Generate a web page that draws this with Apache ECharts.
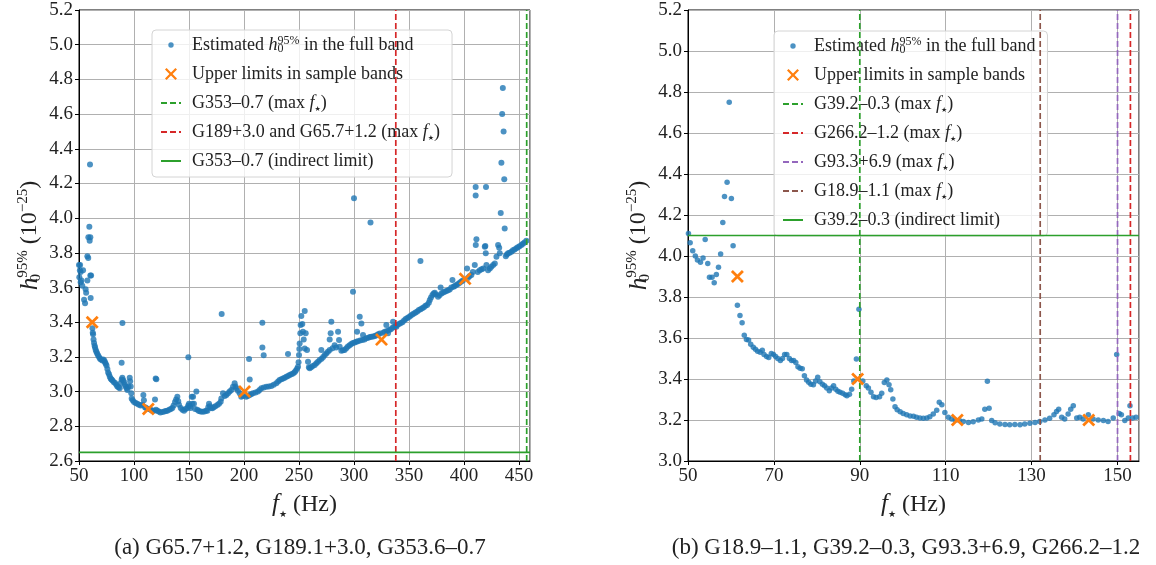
<!DOCTYPE html>
<html><head><meta charset="utf-8">
<script src="https://cdn.jsdelivr.net/npm/echarts@6/dist/echarts.min.js"></script>
<style>html,body{margin:0;padding:0;background:#fff}#c{width:1156px;height:565px}</style>
</head><body><div id="c"></div>
<script>
// ---------------- DATA ----------------
const leftEst = [
[50.0,3.73],[50.3,3.66],[50.8,3.70],[51.0,3.73],[51.5,3.69],[51.5,3.63],[52.2,3.64],[53.0,3.61],[53.7,3.70],[54.6,3.53],[55.5,3.51],[56.0,3.59],[56.5,3.57],[57.6,3.64],[57.6,3.78],[58.4,3.77],[58.5,3.89],[59.4,3.95],[59.7,3.87],[60.0,4.31],[60.3,3.89],[60.3,3.67],[60.6,3.54],[61.0,3.67],
[62.2,3.365],[62.5,3.34],[62.8,3.33],[63.2,3.30],[63.7,3.28],[64.2,3.265],[64.6,3.255],[65.2,3.24],[65.8,3.23],[66.5,3.22],[67.3,3.21],[68.2,3.20],[69.1,3.19],[70.0,3.185],[71.2,3.18],[72.0,3.185],[73.0,3.18],[73.6,3.17],[74.3,3.16],[75.0,3.15],[75.8,3.13],[76.5,3.11],[77.3,3.10],[78.0,3.085],[78.8,3.075],[79.5,3.07],[80.3,3.065],[81.5,3.055],[82.8,3.05],[84.0,3.04],[84.9,3.03],[86.0,3.025],[87.0,3.02],[88.0,3.05],[88.8,3.07],[89.4,3.08],[90.2,3.065],[90.9,3.055],[91.7,3.04],[92.5,3.03],[93.3,3.02],[94.0,3.01],[95.0,3.03],[96.1,3.08],[96.5,3.06],[97.0,3.03],[97.5,2.99],[97.9,2.96],[98.8,2.95],[100.0,2.94],[101.5,2.935],[103.0,2.93],[104.5,2.925],[106.1,2.92],[107.5,2.925],[108.5,2.98],[109.0,2.95],[110.0,2.91],[111.0,2.905],[113.5,2.9],[115.2,2.895],[116.5,2.89],[118.0,2.89],[119.1,2.955],[120.0,2.895],[121.2,2.89],[122.5,2.885],[124.0,2.88],[125.8,2.883],[127.5,2.885],[129.0,2.888],[130.3,2.89],[132.0,2.895],[133.5,2.9],[134.9,2.905],[136.0,2.92],[137.3,2.94],[138.3,2.955],[139.4,2.97],[140.2,2.945],[140.9,2.925],[142.5,2.905],[144.0,2.895],[145.5,2.89],[147.0,2.9],[148.5,2.905],[149.3,2.92],[150.0,2.93],[150.8,2.915],[151.5,2.905],[152.5,2.97],[153.0,2.93],[153.7,2.97],[154.5,2.93],[155.5,2.9],[156.7,3.0],[157.6,2.895],[159.0,2.888],[160.5,2.885],[162.2,2.884],[164.0,2.886],[165.5,2.89],[166.7,2.89],[167.5,2.91],[168.2,2.93],[169.0,2.915],[170.0,2.905],[171.2,2.904],[172.5,2.91],[174.0,2.915],[175.8,2.923],[177.3,2.93],[178.8,2.942],[179.4,2.961],[180.9,2.99],[182.5,2.975],[184.0,2.98],[185.5,2.99],[187.0,3.0],[188.5,3.01],[190.0,3.028],[191.5,3.048],[192.3,3.03],[193.0,3.019],[194.5,3.005],[196.1,2.99],[197.5,2.97],[199.0,2.975],[202.0,2.97],[203.5,2.975],[205.0,2.98],[206.5,2.985],[208.2,2.99],[210.5,2.995],[212.7,3.0],[214.2,3.01],[215.8,3.019],[218.0,3.024],[220.3,3.028],[222.5,3.03],[224.9,3.032],[227.0,3.04],[229.4,3.048],[231.0,3.058],[232.4,3.067],[234.0,3.072],[235.5,3.076],[237.0,3.08],[238.5,3.086],[240.0,3.09],[241.5,3.096],[243.0,3.10],[244.6,3.105],[246.0,3.112],[247.0,3.121],[248.2,3.132],[249.1,3.144],[249.6,3.17],[250.0,3.211],[250.3,3.245],[250.6,3.278],[251.2,3.336],[251.5,3.384],[252.1,3.436],[253.0,3.39],[253.6,3.345],[254.3,3.30],[255.2,3.465],[255.2,3.249],[256.1,3.336],[257.3,3.24],[258.2,3.172],[259.0,3.14],[259.7,3.134],[261.0,3.14],[262.5,3.148],[264.3,3.153],[265.8,3.163],[267.3,3.172],[268.8,3.182],[270.3,3.24],[270.5,3.19],[272.0,3.2],[273.4,3.211],[274.8,3.22],[276.3,3.23],[277.9,3.24],[277.9,3.301],[278.8,3.336],[279.4,3.403],[280.5,3.25],[282.4,3.268],[283.8,3.255],[285.5,3.345],[286.4,3.297],[287.0,3.259],[288.5,3.235],[290.0,3.238],[291.5,3.24],[293.0,3.25],[294.5,3.26],[296.1,3.268],[297.5,3.275],[299.0,3.28],[300.6,3.283],[302.1,3.288],[302.8,3.345],[303.5,3.29],[305.2,3.432],[305.5,3.295],[306.7,3.393],[307.5,3.298],[308.2,3.326],[309.5,3.3],[311.2,3.307],[313.0,3.31],[314.5,3.315],[315.8,3.317],[317.5,3.318],[319.0,3.321],[320.5,3.325],[322.0,3.33],[323.5,3.335],[326.5,3.34],[328.0,3.345],[329.4,3.384],[330.0,3.35],[330.9,3.336],[332.0,3.355],[333.5,3.36],[335.0,3.368],[335.5,3.403],[336.5,3.372],[338.0,3.379],[338.5,3.374],[339.5,3.385],[341.0,3.39],[342.5,3.395],[344.0,3.40],[345.5,3.41],[347.0,3.418],[348.5,3.425],[350.0,3.43],[351.5,3.438],[353.0,3.445],[354.5,3.45],[356.0,3.456],[357.5,3.462],[359.0,3.47],[360.4,3.753],[360.5,3.475],[362.0,3.48],[363.5,3.487],[365.0,3.495],[366.5,3.50],[368.0,3.512],[368.9,3.528],[370.0,3.543],[371.3,3.557],[372.4,3.565],[373.4,3.57],[374.5,3.56],[376.4,3.547],[377.8,3.555],[378.75,3.60],[379.5,3.566],[381.0,3.571],[382.5,3.576],[384.0,3.58],[385.5,3.585],[387.0,3.589],[388.5,3.60],[389.5,3.643],[390.5,3.605],[391.6,3.609],[393.0,3.615],[394.5,3.62],[396.1,3.628],[397.5,3.635],[399.0,3.64],[402.8,3.71],[403.5,3.655],[405.0,3.665],[406.7,3.672],[408.0,3.69],[409.8,3.73],[410.6,4.18],[410.6,4.13],[410.7,3.845],[411.3,3.878],[412.5,3.69],[414.3,3.70],[416.0,3.706],[417.5,3.71],[418.9,3.835],[419.4,3.84],[419.8,3.797],[420.0,4.18],[420.4,3.73],[421.9,3.70],[423.5,3.71],[424.9,3.72],[426.5,3.73],[428.0,3.739],[429.5,3.778],[431.0,3.845],[432.0,3.83],[432.5,3.797],[433.4,4.03],[434.0,4.32],[434.7,4.6],[435.3,4.75],[436.0,4.5],[436.6,4.225],[437.0,3.941],[438.0,3.78],[439.0,3.79],[440.1,3.797],[441.5,3.80],[443.1,3.807],[444.5,3.815],[446.0,3.82],[447.6,3.826],[449.0,3.832],[450.5,3.838],[452.2,3.845],[453.5,3.852],[455.0,3.86],[456.7,3.87],
[88.75,3.167],[89.5,3.395],[119.7,3.076],[120.3,3.071],[149.4,3.198],[179.7,3.447],[204.6,3.188],[205.2,3.07],[216.7,3.397],[216.7,3.255],[217.9,3.21],[240.0,3.217],[299.1,3.576],[300.0,4.115],[315.0,3.975]
];
const leftUL = [[62,3.4],[113,2.9],[200.5,3.0],[325,3.3],[401,3.65]];
const leftMaxF = [457, 338];
const leftMaxFNames = ['G353–0.7', 'G189+3.0 and G65.7+1.2'];
const leftIndirect = 2.65;
const leftIndirectName = 'G353–0.7';

const rightEst = [
[50.1,4.11],[50.5,4.065],[51.1,4.026],[51.7,4.0],[52.2,3.98],[52.9,3.97],[53.5,3.99],[54.0,4.08],[54.6,3.964],[55.0,3.896],[55.6,3.896],[56.1,3.87],[56.6,3.91],[57.1,3.945],[57.6,4.01],[58.1,4.164],[58.5,4.29],[59.1,4.36],[59.6,4.75],[60.1,4.28],[60.5,4.05],
[61.5,3.76],[62.1,3.71],[62.6,3.675],[63.1,3.614],[63.6,3.593],[64.1,3.59],[64.6,3.57],[65.2,3.555],[65.7,3.545],[66.2,3.535],[66.8,3.53],[67.3,3.54],[67.7,3.52],[68.3,3.51],[68.8,3.505],[69.4,3.525],[69.9,3.52],[70.4,3.51],[70.9,3.5],[71.5,3.49],[72.0,3.5],[72.5,3.52],[73.0,3.52],[73.6,3.5],[74.1,3.49],[74.6,3.49],[75.1,3.48],[75.6,3.46],[76.1,3.453],[76.6,3.45],[77.1,3.416],[77.6,3.395],[78.1,3.384],[78.6,3.375],[79.2,3.372],[79.7,3.39],[80.2,3.408],[80.7,3.387],[81.3,3.375],[81.8,3.367],[82.3,3.356],[82.9,3.343],[83.4,3.356],[83.9,3.367],[84.4,3.35],[84.9,3.34],[85.4,3.335],[86.0,3.33],[86.6,3.323],[87.0,3.318],[87.6,3.326],[88.1,3.35],[88.6,3.39],[89.2,3.497],[89.8,3.74],
[90.7,3.39],[91.5,3.367],[92.0,3.356],[92.6,3.335],[93.2,3.313],[93.8,3.31],[94.6,3.313],[95.1,3.33],[95.7,3.383],[96.3,3.395],[96.8,3.372],[97.2,3.348],[97.7,3.302],[98.2,3.265],[98.7,3.25],[99.4,3.24],[100.1,3.232],[100.9,3.226],[101.7,3.22],[102.5,3.218],[103.2,3.214],[104.0,3.21],[104.8,3.208],[105.6,3.21],[106.3,3.216],[107.1,3.229],[107.9,3.248],[108.5,3.286],[109.1,3.275],[109.8,3.237],[110.6,3.213],[111.4,3.205],[112.2,3.2],[113.2,3.197],[114.1,3.193],[115.3,3.188],[116.4,3.192],[117.6,3.2],[118.4,3.205],[119.1,3.253],[119.7,3.389],[120.1,3.257],[120.7,3.197],[121.5,3.187],[122.6,3.18],[123.8,3.178],[124.9,3.177],[126.1,3.178],[127.3,3.177],[128.4,3.18],[129.6,3.184],[130.8,3.188],[131.9,3.193],[133.1,3.2],[134.2,3.208],[135.2,3.226],[135.8,3.242],[136.3,3.253],[137.0,3.213],[137.7,3.205],[138.5,3.229],[139.1,3.253],[139.7,3.27],[140.5,3.21],[141.2,3.213],[142.0,3.205],[143.2,3.226],[144.3,3.205],[145.5,3.2],[146.7,3.197],[147.8,3.193],[149.0,3.21],[149.8,3.52],[150.4,3.232],[150.9,3.226],[151.7,3.197],[152.5,3.21],[152.9,3.27],[153.5,3.21],[154.3,3.213]
];
const rightUL = [[61.5,3.9],[89.5,3.4],[112.7,3.2],[143.3,3.2]];
const rightMaxF = [90, 153, 150, 132];
const rightMaxFNames = ['G39.2–0.3', 'G266.2–1.2', 'G93.3+6.9', 'G18.9–1.1'];
const rightIndirect = 4.10;
const rightIndirectName = 'G39.2–0.3';

const leftX = [50, 460], leftY = [2.6, 5.2];
const rightX = [50, 155], rightY = [3.0, 5.2];
const captions = ['(a) G65.7+1.2, G189.1+3.0, G353.6–0.7', '(b) G18.9–1.1, G39.2–0.3, G93.3+6.9, G266.2–1.2'];

// ---------------- STYLE ----------------
const F = 'Liberation Serif';
const C = {blue:'#1f77b4', orange:'#ff7f0e', green:'#2ca02c', red:'#d62728', purple:'#9467bd', brown:'#8c564b'};
const leftMaxFColors = [C.green, C.red];
const rightMaxFColors = [C.green, C.red, C.purple, C.brown];
const XPATH = 'path://M0,1.5L1.5,0L5,3.5L8.5,0L10,1.5L6.5,5L10,8.5L8.5,10L5,6.5L1.5,10L0,8.5L3.5,5Z';
const X_ICON = 'path://M0,0L0.001,0Z M20,14L20.001,14Z M4,2.6L5.6,1L10,5.4L14.4,1L16,2.6L11.6,7L16,11.4L14.4,13L10,8.6L5.6,13L4,11.4L8.4,7Z';
const DOT_ICON = 'path://M0,0L0.001,0Z M20,14L20.001,14Z M7.3,7A2.7,2.7 0 1 1 12.7,7A2.7,2.7 0 1 1 7.3,7Z';
const FSTAR = '{i|f}{star|★}';
const H95 = '{i|h}{sub|0}{sup|95%}';
const NONE = 'rgba(0,0,0,0)';

const labels = {};
const series = [];
const legendL = [], legendR = [];

function addPanel(idx, est, ul, maxF, maxFNames, maxFColors, indirect, indirectName, xr, yr, legendArr, pre, dot) {
  labels[pre+'est'] = 'Estimated ' + H95 + ' in the full band';
  labels[pre+'ul'] = 'Upper limits in sample bands';
  series.push({type:'scatter', name:pre+'est', xAxisIndex:idx, yAxisIndex:idx, data:est, symbol:'circle', symbolSize:dot,
    itemStyle:{color:C.blue, opacity:0.8}, z:2, silent:true});
  series.push({type:'scatter', name:pre+'ul', xAxisIndex:idx, yAxisIndex:idx, data:ul, symbol:XPATH, symbolSize:13,
    itemStyle:{color:C.orange, opacity:1}, z:5, silent:true});
  legendArr.push({name:pre+'est', icon:DOT_ICON}, {name:pre+'ul', icon:X_ICON});
  maxF.forEach((x, k) => {
    const key = pre + 'v' + k;
    labels[key] = maxFNames[k] + ' (max ' + FSTAR + ')';
    series.push({type:'line', name:key, xAxisIndex:idx, yAxisIndex:idx, data:[[x, yr[0]],[x, yr[1]]], symbol:'none',
      lineStyle:{color:maxFColors[k], width:1.7, type:[6,3]}, itemStyle:{color:NONE, borderWidth:0}, z:4, silent:true});
    legendArr.push({name:key, itemStyle:{color:NONE, borderWidth:0, opacity:0}});
  });
  const hk = pre + 'h';
  labels[hk] = indirectName + ' (indirect limit)';
  series.push({type:'line', name:hk, xAxisIndex:idx, yAxisIndex:idx, data:[[xr[0], indirect],[xr[1], indirect]], symbol:'none',
    lineStyle:{color:C.green, width:1.7, type:'solid'}, itemStyle:{color:NONE, borderWidth:0}, z:4, silent:true});
  legendArr.push({name:hk, itemStyle:{color:NONE, borderWidth:0, opacity:0}});
}
addPanel(0, leftEst, leftUL, leftMaxF, leftMaxFNames, leftMaxFColors, leftIndirect, leftIndirectName, leftX, leftY, legendL, 'L_', 6);
addPanel(1, rightEst, rightUL, rightMaxF, rightMaxFNames, rightMaxFColors, rightIndirect, rightIndirectName, rightX, rightY, legendR, 'R_', 5.5);

const richLegend = {
  i:{fontStyle:'italic', fontFamily:F, fontSize:18, color:'#222'},
  sub:{fontFamily:F, fontSize:12, verticalAlign:'bottom', width:0, color:'#222', lineHeight:12},
  sup:{fontFamily:F, fontSize:12, verticalAlign:'top', color:'#222', lineHeight:12},
  star:{fontFamily:'DejaVu Sans', fontSize:7, verticalAlign:'bottom', color:'#222', lineHeight:9}
};
function mkLegend(left, top, data) {
  return {orient:'vertical', left:left, top:top, data:data, itemWidth:20, itemHeight:14, itemGap:9,
    padding:[5,12,6,8], backgroundColor:'rgba(255,255,255,0.8)', borderColor:'#d4d4d4', borderWidth:1, borderRadius:4,
    selectedMode:false, formatter:n => labels[n],
    textStyle:{fontFamily:F, fontSize:18, color:'#222', lineHeight:20, padding:[0,0,0,6], rich:richLegend}};
}

const axisText = {fontFamily:F, fontSize:19, color:'#222'};
const nameRich = {
  i:{fontStyle:'italic', fontFamily:F, fontSize:25, color:'#222'},
  sub:{fontFamily:F, fontSize:15, verticalAlign:'bottom', width:0, color:'#222', lineHeight:14},
  sup:{fontFamily:F, fontSize:15, verticalAlign:'top', color:'#222', lineHeight:14},
  star:{fontFamily:'DejaVu Sans', fontSize:9, verticalAlign:'bottom', color:'#222', lineHeight:11}
};
function xAx(idx, r, interval) {
  return {type:'value', gridIndex:idx, min:r[0], max:r[1], interval:interval,
    name: FSTAR + ' (Hz)', nameLocation:'middle', nameGap:23,
    nameTextStyle:{fontFamily:F, fontSize:24, color:'#222', lineHeight:28, rich:nameRich},
    axisLine:{show:true, onZero:false, lineStyle:{color:'#000', width:1}},
    axisTick:{show:true, length:4, lineStyle:{color:'#000'}},
    axisLabel:Object.assign({margin:6, showMaxLabel:false}, axisText),
    splitLine:{show:true, lineStyle:{color:'#b0b0b0', width:1}}};
}
function yAx(idx, r) {
  return {type:'value', gridIndex:idx, min:r[0], max:r[1], interval:0.2,
    name: H95 + ' (10{sup|−25})', nameLocation:'middle', nameGap:35,
    nameTextStyle:{fontFamily:F, fontSize:24, color:'#222', lineHeight:28, rich:nameRich},
    axisLine:{show:true, onZero:false, lineStyle:{color:'#000', width:1}},
    axisTick:{show:true, length:4, lineStyle:{color:'#000'}},
    axisLabel:Object.assign({margin:6, formatter:v => v.toFixed(1)}, axisText),
    splitLine:{show:true, lineStyle:{color:'#b0b0b0', width:1}}};
}

const chart = echarts.init(document.getElementById('c'), null, {renderer:'canvas'});
chart.setOption({
  animation:false,
  backgroundColor:'#fff',
  grid:[
    {left:79, top:10, width:451, height:451, show:true, borderColor:'#000', borderWidth:1, outerBoundsMode:'none', containLabel:false},
    {left:688, top:10, width:451, height:451, show:true, borderColor:'#000', borderWidth:1, outerBoundsMode:'none', containLabel:false}
  ],
  xAxis:[xAx(0, leftX, 50), xAx(1, rightX, 20)],
  yAxis:[yAx(0, leftY), yAx(1, rightY)],
  legend:[mkLegend(152, 30, legendL), mkLegend(774, 31, legendR)],
  graphic:[
    {type:'text', x:300, y:548, style:{text:captions[0], font:'23px "Liberation Serif"', fill:'#222', textAlign:'center', textVerticalAlign:'middle'}},
    {type:'text', x:906, y:548, style:{text:captions[1], font:'23px "Liberation Serif"', fill:'#222', textAlign:'center', textVerticalAlign:'middle'}}
  ],
  series:series
});
</script></body></html>
